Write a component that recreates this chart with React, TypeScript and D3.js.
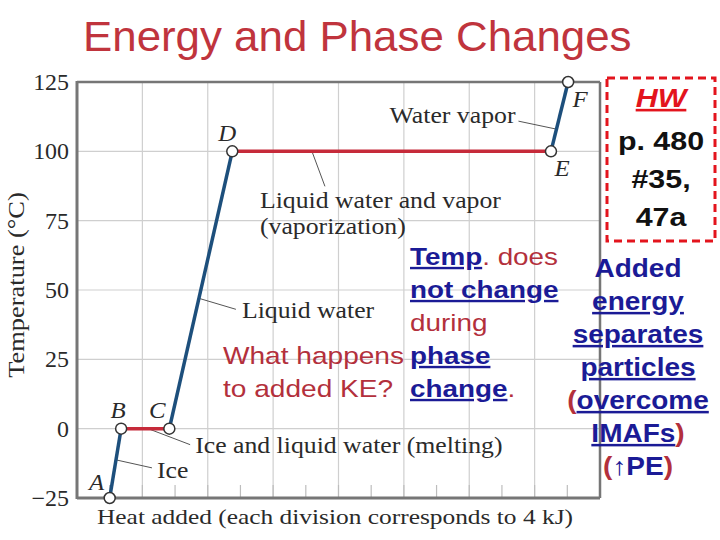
import React from "react";
import * as d3 from "d3";

// ---------- data ----------
const chartTitle = "Energy and Phase Changes";
const pointLabels = ["A", "B", "C", "D", "E", "F"];
const heatAddedKJ = [4.0, 5.4, 11.3, 19.0, 58.0, 60.1];
const temperatureC = [-25, 0, 0, 100, 100, 125];
const segmentKinds = ["heating", "phase", "heating", "phase", "heating"];
const segmentLabels = [
  ["Ice"],
  ["Ice and liquid water (melting)"],
  ["Liquid water"],
  ["Liquid water and vapor", "(vaporization)"],
  ["Water vapor"],
];
const yTicks = [-25, 0, 25, 50, 75, 100, 125];
const xDomain = [0, 64];
const xMinorStep = 4;
const xMajorStep = 8;
const xAxisTitle = "Heat added (each division corresponds to 4 kJ)";
const yAxisTitle = "Temperature (°C)";

// ---------- layout / style ----------
const W = 720, H = 540;
const plot = { left: 77, right: 600, top: 82, bottom: 498 };
const SERIF = "'Liberation Serif', 'Times New Roman', serif";
const SANS = "'Liberation Sans', Arial, sans-serif";
const BLUE = "#1d4f7c";
const RED_LINE = "#c62a3a";
const TXT_RED = "#b3303c";
const NAVY = "#1b1b96";
const GRID = "#cfcfcf";
const FRAME = "#767676";

// leader-line layout for each segment label: t along segment, end offset, text offset, anchor
const leaderLayout = [
  { t: 0.55, ex: 36, ey: 8, tx: 41, ty: 18, anchor: "start" },
  { t: 0.56, ex: 42, ey: 16, tx: 47, ty: 24, anchor: "start" },
  { t: 0.47, ex: 37, ey: 11, tx: 43, ty: 20, anchor: "start" },
  { t: 0.25, ex: 13, ey: 35, tx: -52, ty: 57, anchor: "start" },
  { t: 0.32, ex: -38, ey: -8, tx: -41, ty: -6, anchor: "end" },
];
const pointLabelOffset = [
  [-13, -8], [-3, -11], [-12, -11], [-5, -10], [11, 25], [12, 25],
];

function T(props: any) {
  const { x, y, sx = 1, rotate = 0, children, ...rest } = props;
  return (
    <text
      transform={`translate(${x},${y}) rotate(${rotate}) scale(${sx},1)`}
      {...rest}
    >
      {children}
    </text>
  );
}

export default function App() {
  const x = d3.scaleLinear().domain(xDomain).range([plot.left, plot.right]);
  const y = d3.scaleLinear().domain([-25, 125]).range([plot.bottom, plot.top]);

  const pts = heatAddedKJ.map((h, i) => ({ px: x(h), py: y(temperatureC[i]) }));
  const line = d3.line<{ px: number; py: number }>().x((d) => d.px).y((d) => d.py);

  const minorTicks = d3.range(xDomain[0], xDomain[1] + 0.001, xMinorStep);
  const majorTicks = d3.range(xDomain[0], xDomain[1] + 0.001, xMajorStep);

  const under = { textDecoration: "underline" } as any;

  return (
    <svg
      width={W}
      height={H}
      style={{ position: "absolute", left: 0, top: 0, background: "#fff" }}
    >
      <rect x={0} y={0} width={W} height={H} fill="#fff" />
      {/* title */}
      <T x={83} y={51} sx={1.02} fontFamily={SANS} fontSize={43} fill="#c0343d">
        {chartTitle}
      </T>

      {/* grid */}
      {majorTicks.map((v) => (
        <line key={"vx" + v} x1={x(v)} x2={x(v)} y1={plot.top} y2={plot.bottom} stroke={GRID} strokeWidth={1.2} />
      ))}
      {yTicks.map((v) => (
        <line key={"hy" + v} x1={plot.left} x2={plot.right} y1={y(v)} y2={y(v)} stroke={GRID} strokeWidth={1.2} />
      ))}
      {minorTicks.map((v) => (
        <line key={"mt" + v} x1={x(v)} x2={x(v)} y1={plot.bottom} y2={plot.bottom - 13} stroke="#bdbdbd" strokeWidth={1.2} />
      ))}
      {/* frame */}
      <line x1={plot.left} x2={plot.right} y1={plot.top} y2={plot.top} stroke={FRAME} strokeWidth={2.5} />
      <line x1={plot.right} x2={plot.right} y1={plot.top} y2={plot.bottom} stroke={FRAME} strokeWidth={2.5} />
      <line x1={plot.left} x2={plot.left} y1={plot.top - 1} y2={plot.bottom + 1} stroke={FRAME} strokeWidth={3} />
      <line x1={plot.left} x2={plot.right} y1={plot.bottom} y2={plot.bottom} stroke={FRAME} strokeWidth={3} />

      {/* y tick labels */}
      {yTicks.map((v) => (
        <T key={"yl" + v} x={69} y={y(v) + 8} sx={1.04} textAnchor="end" fontFamily={SERIF} fontSize={23} fill="#2a2a2a">
          {v < 0 ? "\u2212" + Math.abs(v) : String(v)}
        </T>
      ))}
      {/* axis titles */}
      <T x={97} y={524} sx={1.155} fontFamily={SERIF} fontSize={22} fill="#2a2a2a">
        {xAxisTitle}
      </T>
      <T x={24} y={285} rotate={-90} sx={1.15} textAnchor="middle" fontFamily={SERIF} fontSize={23} fill="#2a2a2a">
        {yAxisTitle}
      </T>

      {/* leader lines + segment labels */}
      {segmentLabels.map((lines, i) => {
        const a = pts[i], b = pts[i + 1];
        const L = leaderLayout[i];
        const sx0 = a.px + (b.px - a.px) * L.t;
        const sy0 = a.py + (b.py - a.py) * L.t;
        return (
          <g key={"ann" + i}>
            <line x1={sx0} y1={sy0} x2={sx0 + L.ex} y2={sy0 + L.ey} stroke="#555" strokeWidth={1} />
            {lines.map((txt, j) => (
              <T key={j} x={sx0 + L.tx} y={sy0 + L.ty + j * 26} sx={1.12} textAnchor={L.anchor} fontFamily={SERIF} fontSize={23} fill="#2a2a2a">
                {txt}
              </T>
            ))}
          </g>
        );
      })}

      {/* segments */}
      {segmentKinds.map((k, i) => (
        <path
          key={"seg" + i}
          d={line([pts[i], pts[i + 1]]) || ""}
          stroke={k === "heating" ? BLUE : RED_LINE}
          strokeWidth={3.5}
          fill="none"
        />
      ))}
      {/* points */}
      {pts.map((p, i) => (
        <g key={"pt" + i}>
          <circle cx={p.px} cy={p.py} r={5.5} fill="#fff" stroke="#333" strokeWidth={1.5} />
          <T x={p.px + pointLabelOffset[i][0]} y={p.py + pointLabelOffset[i][1]} sx={1.08} textAnchor="middle" fontFamily={SERIF} fontStyle="italic" fontSize={23} fill="#2a2a2a">
            {pointLabels[i]}
          </T>
        </g>
      ))}

      {/* middle explanatory text */}
      <g fontFamily={SANS} fontSize={24}>
        <T x={410} y={265} sx={1.16}>
          <tspan fill={NAVY} fontWeight="bold" style={under}>Temp</tspan>
          <tspan fill={TXT_RED}>. does</tspan>
        </T>
        <T x={410} y={298} sx={1.16} fill={NAVY} fontWeight="bold" style={under}>not change</T>
        <T x={410} y={331} sx={1.16} fill={TXT_RED}>during</T>
        <T x={410} y={364} sx={1.16} fill={NAVY} fontWeight="bold" style={under}>phase</T>
        <T x={410} y={397} sx={1.16}>
          <tspan fill={NAVY} fontWeight="bold" style={under}>change</tspan>
          <tspan fill={TXT_RED}>.</tspan>
        </T>
        <T x={223} y={364} sx={1.17} fill={TXT_RED}>What happens</T>
        <T x={223} y={397} sx={1.17} fill={TXT_RED}>to added KE?</T>
      </g>

      {/* HW box */}
      <rect x={607} y={78} width={108} height={163} fill="none" stroke="#e3141d" strokeWidth={3} strokeDasharray="8 5" />
      <g fontFamily={SANS} fontSize={26} fontWeight="bold" textAnchor="middle">
        <T x={661} y={107} sx={1.17} fill="#e3141d" fontStyle="italic" style={under}>HW</T>
        <T x={661} y={150} sx={1.17} fill="#111">p. 480</T>
        <T x={661} y={188} sx={1.17} fill="#111">#35,</T>
        <T x={661} y={226} sx={1.17} fill="#111">47a</T>
      </g>

      {/* right explanatory text */}
      <g fontFamily={SANS} fontSize={25} fontWeight="bold" textAnchor="middle">
        <T x={638} y={277} sx={1.12} fill={NAVY}>Added</T>
        <T x={638} y={310} sx={1.12} fill={NAVY} style={under}>energy</T>
        <T x={638} y={343} sx={1.12} fill={NAVY} style={under}>separates</T>
        <T x={638} y={376} sx={1.12} fill={NAVY} style={under}>particles</T>
        <T x={638} y={409} sx={1.12}>
          <tspan fill={TXT_RED}>(</tspan>
          <tspan fill={NAVY} style={under}>overcome</tspan>
        </T>
        <T x={638} y={442} sx={1.12}>
          <tspan fill={NAVY} style={under}>IMAFs</tspan>
          <tspan fill={TXT_RED}>)</tspan>
        </T>
        <T x={638} y={475} sx={1.12}>
          <tspan fill={TXT_RED}>(</tspan>
          <tspan fill={NAVY}>{"\u2191PE"}</tspan>
          <tspan fill={TXT_RED}>)</tspan>
        </T>
      </g>
    </svg>
  );
}
